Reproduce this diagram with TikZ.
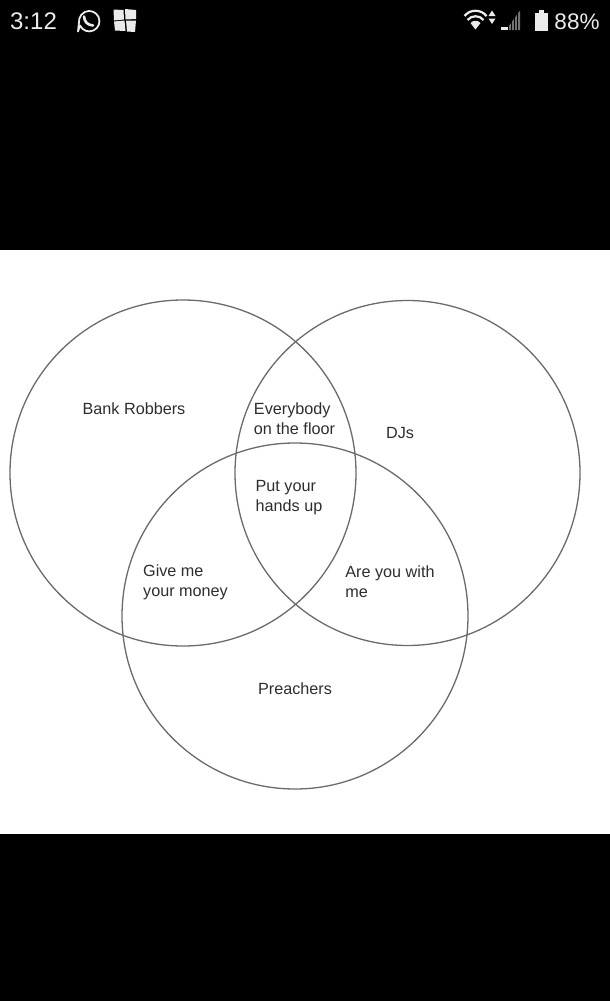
\documentclass[tikz,border=0pt]{standalone}
\usepackage{fontspec}
\setmainfont{Liberation Sans}
\tikzset{
 x=1pt,y=-1pt,
 venn/.style={draw=black!58,line width=1.3pt},
 lab/.style={font=\fontsize{16.2}{20}\selectfont,text=black!82,align=left,inner sep=0pt},
 stat/.style={font=\fontsize{24}{24}\selectfont,text=white!92!black,inner sep=0pt},
 ico/.style={fill=white!92!black,draw=none},
}
\begin{document}
\begin{tikzpicture}
\useasboundingbox (0,0) rectangle (610,1001);
\fill[black] (0,0) rectangle (610,1001);
\fill[white] (0,250) rectangle (610,834);
% Venn
\coordinate (cl) at (183,473);
\coordinate (cr) at (407.5,473);
\coordinate (cb) at (295,616);
\draw[venn] (cl) circle[radius=173];
\draw[venn] (cr) circle[radius=172.5];
\draw[venn] (cb) circle[radius=173];
\node[lab] (bank) at (134,409) {Bank Robbers};
\node[lab] (djs) at (400,433) {DJs};
\node[lab] (every) at (294.5,419) {Everybody\\on the floor};
\node[lab] (put) at (289,497.5) {Put your\\hands up};
\node[lab] (give) at (185.5,582) {Give me\\your money};
\node[lab] (are) at (390,582) {Are you with\\me};
\node[lab] (preach) at (295,689) {Preachers};
% Status bar
\node[stat] (time) at (33.5,21) {3:12};
\node[stat,font=\fontsize{22.5}{24}\selectfont] (batt) at (577,21.5) {88\%};
% WhatsApp icon
\draw[white!92!black,line width=1.8pt,line join=round] (78,31.5) -- (80,25.5) arc[start angle=155,end angle=-165,radius=10.2] -- cycle;
\draw[white!92!black,line width=2.6pt,line cap=round] (84,16.5) .. controls (84.5,22) and (87.5,25) .. (93,25.5);
% Patch icon
\fill[ico] (113.5,9.5) -- (123.5,10) -- (124,19.5) -- (114,20.5) -- cycle;
\fill[ico] (125,9) -- (136,10) -- (136,19) -- (125.5,19.5) -- cycle;
\fill[ico] (114,21.5) -- (124.5,20.5) -- (125.5,31) -- (115,30.5) -- cycle;
\fill[ico] (126,20.5) -- (136,20.5) -- (135,32) -- (127,31.5) -- cycle;
% Wifi
\begin{scope}[white!92!black,line width=2.2pt]
\draw (464.5,16) .. controls (470,9) and (481,9) .. (486.5,16);
\draw (467.5,20) .. controls (471.5,15) and (479.5,15) .. (483.5,20);
\end{scope}
\fill[ico] (470.5,23) .. controls (473,20) and (478,20) .. (480.5,23) -- (475.5,29.5) -- cycle;
\fill[ico] (488.5,16) -- (492,10.5) -- (495.5,16) -- cycle;
\fill[ico] (488.5,18.5) -- (495.5,18.5) -- (492,24) -- cycle;
% Signal
\fill[white!45!black] (520,30) -- (520,10.5) -- (506,30) -- cycle;
\foreach \xa in {508,511,514,517}{\fill[black] (\xa,9) rectangle (\xa+.8,31);}
\fill[ico] (501,30) rectangle (508,26.5);
% Battery
\fill[ico] (535,13) rectangle (547.5,31);
\fill[ico] (538.5,10) rectangle (544,13);
\end{tikzpicture}
\end{document}
